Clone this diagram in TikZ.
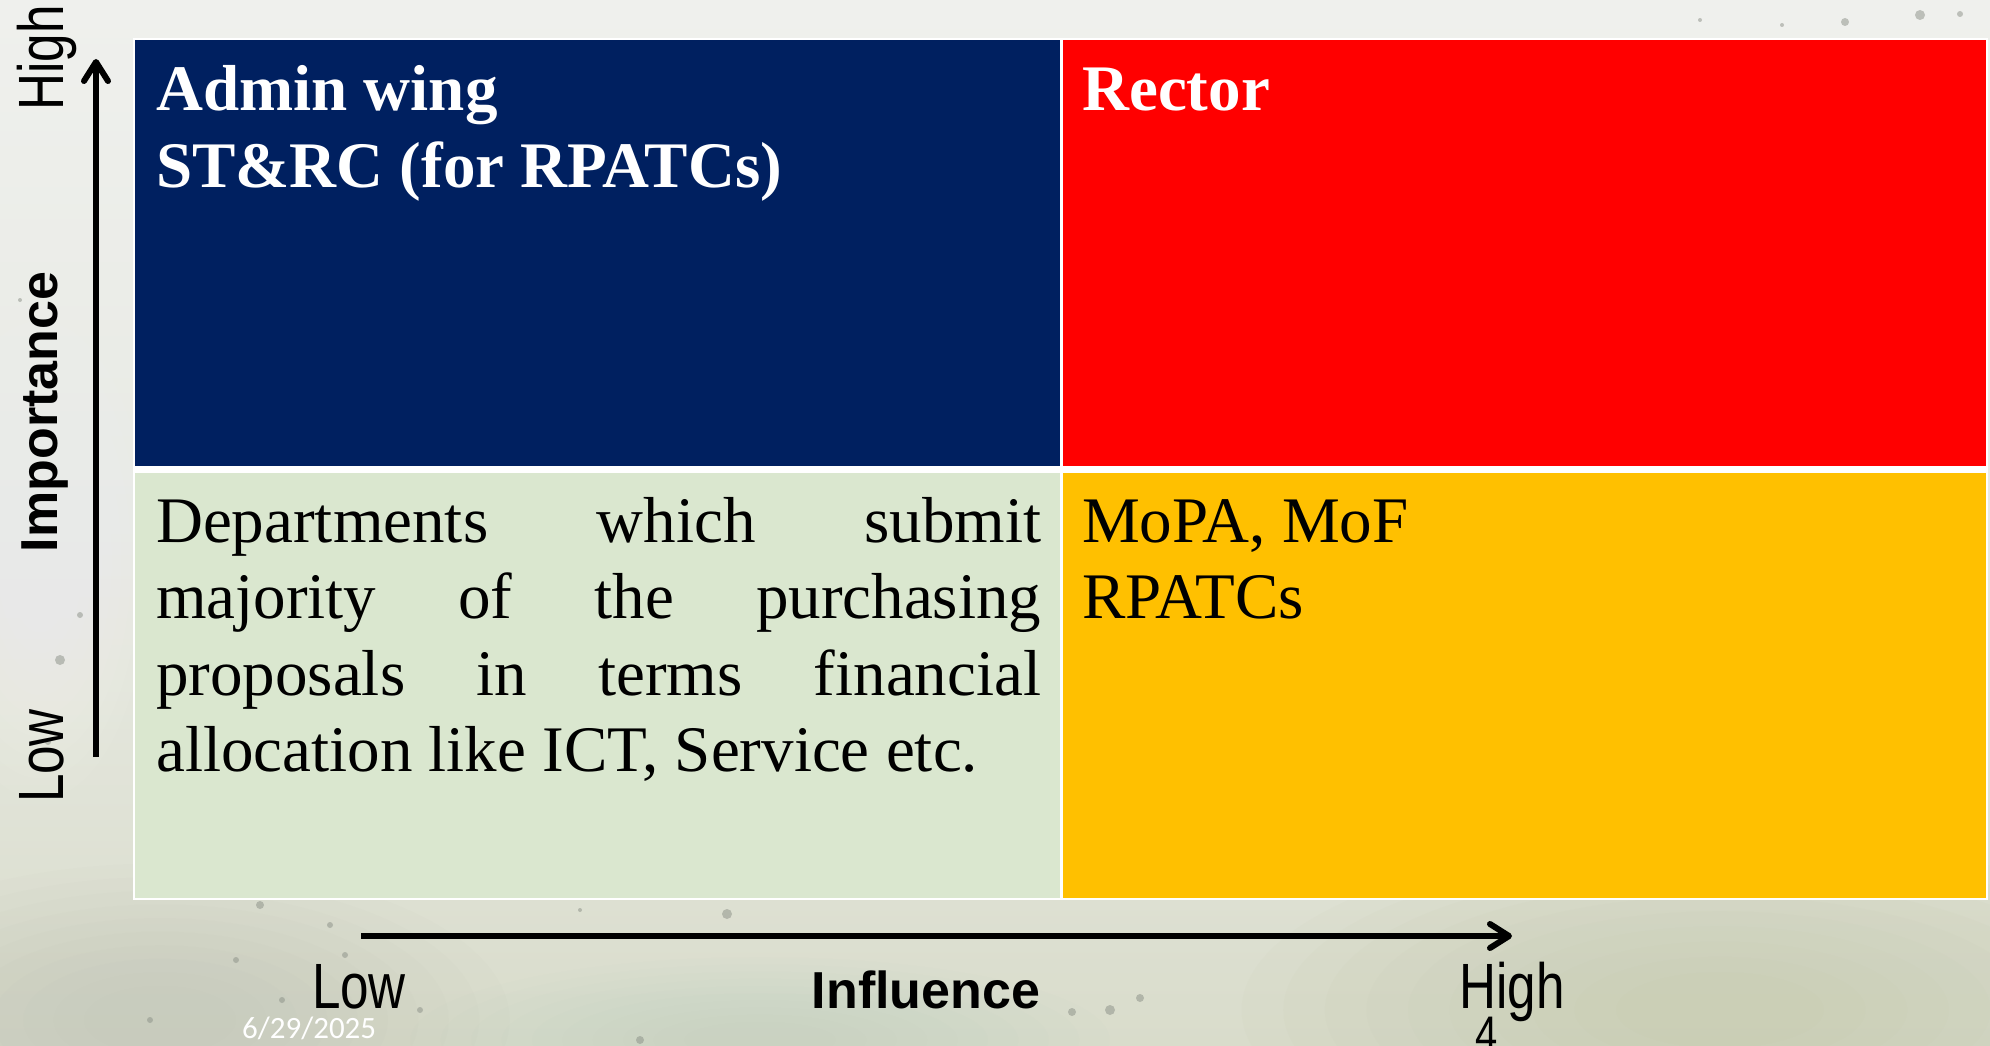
\documentclass[tikz,border=0pt]{standalone}
\usepackage{fontspec}
\setmainfont{Liberation Serif}
\newfontfamily\axisfont{Liberation Sans}
\newfontfamily\narrowfont[FakeStretch=0.8]{Liberation Sans}
\newfontfamily\datefont{Carlito}
\usetikzlibrary{arrows.meta}

\definecolor{cellblue}{HTML}{002060}
\definecolor{cellred}{HTML}{FF0000}
\definecolor{cellgreen}{HTML}{DAE7CF}
\definecolor{cellorange}{HTML}{FFC000}
\definecolor{bgtop}{HTML}{EFF0ED}
\definecolor{bgmid}{HTML}{E8EAE4}
\definecolor{bgbot}{HTML}{D9DCCB}
\definecolor{washolive}{HTML}{B9BE98}
\definecolor{washgrey}{HTML}{B4B8AC}
\definecolor{washteal}{HTML}{B8C8C0}
\definecolor{speck}{HTML}{8A8F86}

\tikzset{
  cell/.style={rectangle, draw=none, inner sep=0pt, outer sep=0pt},
  gridline/.style={draw=white, line width=2.5pt},
  headtext/.style={inner sep=0pt, anchor=base west, text=white,
    font=\fontsize{65}{76.5}\selectfont\bfseries},
  bodytext/.style={inner sep=0pt, anchor=base west, text=black,
    font=\fontsize{65}{76.5}\selectfont},
  narrowlbl/.style={inner sep=0pt, anchor=base, font=\narrowfont\fontsize{64}{70}\selectfont},
  boldlbl/.style={inner sep=0pt, anchor=base, font=\axisfont\bfseries\fontsize{52}{60}\selectfont},
  axisarrow/.style={line width=6pt, line cap=butt,
    -{Straight Barb[length=19pt,width=24pt,round]}},
  dot/.style={fill=speck, draw=none, fill opacity=0.5},
}

% a soft watercolour wash: stacked translucent ellipses
\newcommand\softwash[5]{% x, y, rx, ry, colour
  \foreach \k in {1,...,10}
    \fill[#5, fill opacity=0.045]
      (#1,#2) ellipse ({#3*(1-0.08*\k)} and {#4*(1-0.08*\k)});
}

\begin{document}
\begin{tikzpicture}[x=1pt,y=-1pt]
\useasboundingbox (0,0) rectangle (1990,1046);

% watercolour paper background
\shade[top color=bgtop, bottom color=bgbot, middle color=bgmid] (0,0) rectangle (1990,1046);
\softwash{1720}{1010}{520}{190}{washolive}
\softwash{160}{1020}{380}{170}{washgrey}
\softwash{760}{1040}{380}{90}{washteal}
\softwash{40}{560}{120}{260}{white}
\softwash{700}{10}{600}{60}{white}

% specks
\foreach \px/\py/\r in {260/905/4, 330/925/3, 236/960/3, 282/1000/3, 345/955/3,
  420/1010/3, 580/910/2, 640/1040/4, 727/914/5, 1072/1012/4, 1110/1010/5, 1140/998/4,
  48/742/3, 80/615/3, 60/660/5, 1845/22/4, 1920/15/5, 1960/14/3, 1700/20/2, 1782/25/2,
  20/300/2, 150/1020/3}
  \fill[dot] (\px,\py) circle (\r pt);

% quadrant cells
\node[cell, fill=cellblue,   minimum width=927.5pt, minimum height=430.5pt] (admin)  at (597.75,254.25) {};
\node[cell, fill=cellred,    minimum width=925.5pt, minimum height=430.5pt] (rector) at (1524.25,254.25) {};
\node[cell, fill=cellgreen,  minimum width=927.5pt, minimum height=429.5pt] (depts)  at (597.75,684.25) {};
\node[cell, fill=cellorange, minimum width=925.5pt, minimum height=429.5pt] (mopa)   at (1524.25,684.25) {};

% white table rules
\draw[gridline] (admin.north west) rectangle (mopa.south east);
\draw[gridline, line width=3pt] (admin.north east) -- (depts.south east);
\draw[gridline, line width=7pt] (admin.south west) -- (rector.south east);

% cell texts
\node[headtext] (admintxt) at (156,110.7)
  {\parbox[t]{880pt}{Admin wing\\ST\&RC (for RPATCs)}};
\node[headtext] (rectortxt) at (1082,110.7) {Rector};
\node[bodytext] (deptstxt) at (156,542)
  {\parbox[t]{885pt}{%
    \makebox[\linewidth][s]{Departments which submit}\\
    \makebox[\linewidth][s]{majority of the purchasing}\\
    \makebox[\linewidth][s]{proposals in terms financial}\\
    allocation like ICT, Service etc.}};
\node[bodytext] (mopatxt) at (1082,542)
  {\parbox[t]{880pt}{MoPA, MoF\\RPATCs}};

% axes
\coordinate (ybot) at (96,757);
\coordinate (ytop) at (96,59);
\coordinate (xleft) at (361,936);
\coordinate (xright) at (1512,936);
\draw[axisarrow] (ybot) -- (ytop);
\draw[axisarrow] (xleft) -- (xright);

% axis labels
\node[narrowlbl, rotate=90] (yhigh) at (63,58) {High};
\node[narrowlbl, rotate=90] (ylow) at (63,756) {Low};
\node[boldlbl, rotate=90] (yname) at (57,412) {Importance};
\node[narrowlbl] (xlow) at (359,1008) {Low};
\node[boldlbl] (xname) at (926,1008) {Influence};
\node[narrowlbl] (xhigh) at (1512,1008) {High};

% footer
\node[inner sep=0pt, anchor=base west, text=white,
  font=\datefont\fontsize{31}{36}\selectfont] (date) at (242,1038) {6/29/2025};
\node[inner sep=0pt, anchor=north,
  font=\narrowfont\fontsize{50}{56}\selectfont] (pageno) at (1487,1017) {4};
\end{tikzpicture}
\end{document}
